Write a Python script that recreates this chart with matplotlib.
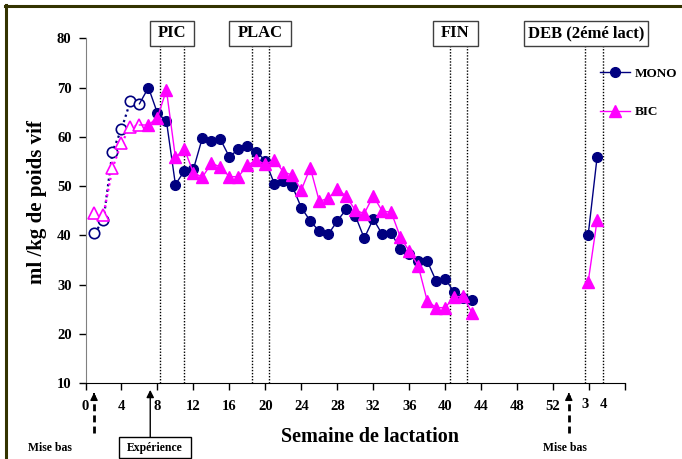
import numpy as np
import matplotlib.pyplot as plt
from matplotlib.patches import Rectangle
from matplotlib.lines import Line2D

plt.rcParams['font.family'] = ['Liberation Serif', 'DejaVu Serif']
plt.rcParams['font.weight'] = 'bold'

# semaines avant l'experience (marqueurs vides, pointilles)
weeks_pre = [1, 2, 3, 4, 5, 6]
mono_pre = [40.4, 43.1, 57.0, 61.5, 67.3, 66.7]
bic_pre = [44.6, 44.2, 53.6, 58.8, 61.9, 62.4]

# semaines 7 a 43
weeks = list(range(7, 44))
mono = [70.0, 64.8, 63.2, 50.3, 53.1, 53.4, 59.8, 59.1, 59.5, 55.9, 57.5, 58.1,
        57.0, 55.1, 50.5, 51.0, 50.0, 45.6, 42.9, 40.8, 40.2, 42.9, 45.3, 44.0,
        39.4, 43.3, 40.2, 40.4, 37.3, 36.1, 34.7, 34.8, 30.7, 31.2, 28.4, 27.3, 26.8]
bic = [62.4, 63.9, 69.5, 55.8, 57.5, 52.7, 51.8, 54.6, 53.9, 51.9, 51.9, 54.2,
       55.3, 54.4, 55.3, 52.9, 52.2, 49.2, 53.7, 46.9, 47.5, 49.4, 47.9, 45.1,
       44.4, 48.0, 44.9, 44.7, 39.7, 36.8, 33.8, 26.7, 25.3, 25.3, 27.5, 27.6, 24.2]

# 2eme lactation
weeks2 = [55.9, 56.9]
mono2 = [40.0, 55.9]
bic2 = [30.5, 43.1]

xticks = list(range(0, 61, 4))
xticklabels = [str(t) for t in range(0, 53, 4)] + ['', '']
lact2_ticks = [55.6, 57.6]
lact2_labels = ['3', '4']

# periodes: nom, debut, fin
periods = ['PIC', 'PLAC', 'FIN', 'DEB (2émé lact)']
period_lines = [(8.3, 10.9), (18.5, 20.4), (40.5, 42.4), (55.6, 57.5)]

navy = '#000080'
mag = '#FF00FF'

fig = plt.figure(figsize=(6.82, 4.59), dpi=100)
ax = fig.add_axes([85.5 / 682, 1 - 383 / 459, 539.5 / 682, 344.7 / 459])

# cadre
fig.add_artist(Line2D([5 / 682, 1], [1 - 6 / 459] * 2, color='#333300', lw=2.2))
fig.add_artist(Line2D([6 / 682] * 2, [0, 1 - 5 / 459], color='#333300', lw=2.2))

# MONO
ax.plot(weeks_pre, mono_pre, ls=(0, (1, 1.5)), lw=1.6, color=navy, marker='o',
        ms=7.5, mfc='white', mec=navy, mew=1.2, zorder=3)
ax.plot([weeks_pre[-1]] + weeks, [mono_pre[-1]] + mono, color=navy, lw=1, zorder=3)
ax.plot(weeks, mono, ls='none', marker='o', ms=7, color=navy, zorder=3)
ax.plot(weeks2, mono2, color=navy, lw=1, marker='o', ms=7, zorder=3)

# BIC
ax.plot(weeks_pre, bic_pre, ls=(0, (1, 1.5)), lw=1.6, color=mag, marker='^',
        ms=8, mfc='white', mec=mag, mew=1.2, zorder=4)
ax.plot([weeks_pre[-1]] + weeks, [bic_pre[-1]] + bic, color=mag, lw=1, zorder=4)
ax.plot(weeks, bic, ls='none', marker='^', ms=8, color=mag, zorder=4)
ax.plot(weeks2, bic2, color=mag, lw=1, marker='^', ms=8, zorder=4)

# periodes
box_x = [(7.17, 12.06), (15.94, 22.83), (38.61, 43.61), (48.72, 62.6)]
for name, (a, b), (x0, x1) in zip(periods, period_lines, box_x):
    ax.vlines([a, b], 10, 78.5, colors='black', linestyles=(0, (1, 1.2)), lw=1, zorder=2)
    ax.add_patch(Rectangle((x0, 78.5), x1 - x0, 5.0, fc='white', ec='#404040',
                           lw=1, clip_on=False, zorder=5))
    ax.text((x0 + x1) / 2, 81.0, name, ha='center', va='center', fontsize=12,
            fontweight='bold', clip_on=False, zorder=6)

ax.set_xlim(0, 60)
ax.set_ylim(10, 80)
ax.set_yticks(range(10, 81, 10))
ax.set_xticks(xticks, labels=xticklabels)
ax.set_xticks(lact2_ticks, labels=lact2_labels, minor=True)
ax.tick_params(axis='both', which='major', direction='out', length=5, width=1,
               labelsize=10.5)
ax.tick_params(axis='x', which='major', pad=7)
ax.tick_params(axis='x', which='minor', length=0, pad=10.6, labelsize=10.5)
ax.tick_params(axis='y', pad=5)
for lab in ax.get_xticklabels(which='both') + ax.get_yticklabels():
    lab.set_fontweight('bold')

for s in ['top', 'right']:
    ax.spines[s].set_visible(False)
ax.spines['left'].set_color('#808080')
ax.spines['bottom'].set_color('black')

ax.set_xlabel('Semaine de lactation', fontsize=14.5, fontweight='bold')
ax.xaxis.set_label_coords(0.527, -0.157)
ax.xaxis.label.set_va('center')
ax.set_ylabel('ml /kg de poids vif', fontsize=15, fontweight='bold')
ax.yaxis.set_label_coords(-0.09, 0.525)
ax.yaxis.label.set_va('center')

# fleches et annotations du bas
for xa in [0.95, 53.75]:
    ax.plot([xa, xa], [-0.2, 7.6], color='black', lw=2, ls=(0, (2.5, 1.5)),
            clip_on=False)
    ax.annotate('', xy=(xa, 8.6), xytext=(xa, 7.2), annotation_clip=False,
                arrowprops=dict(arrowstyle='-|>', color='black', lw=1, mutation_scale=11))
ax.annotate('', xy=(7.2, 8.6), xytext=(7.2, -1.04), annotation_clip=False,
            arrowprops=dict(arrowstyle='-|>', color='black', lw=1, mutation_scale=11,
                            shrinkA=0, shrinkB=0))
ax.add_patch(Rectangle((3.72, -5.3), 8.0, 4.26, fc='white', ec='black', lw=1,
                       clip_on=False, zorder=5))
ax.text(7.72, -3.17, 'Expérience', ha='center', va='center', fontsize=8.5,
        fontweight='bold', clip_on=False, zorder=6)
ax.text(-3.94, -3.27, 'Mise bas', ha='center', va='center', fontsize=8.5,
        fontweight='bold', clip_on=False)
ax.text(53.3, -3.27, 'Mise bas', ha='center', va='center', fontsize=8.5,
        fontweight='bold', clip_on=False)

# legende
h_mono = Line2D([], [], color=navy, lw=1, marker='o', ms=7)
h_bic = Line2D([], [], color=mag, lw=1, marker='^', ms=8)
fig.legend([h_mono, h_bic], ['MONO', 'BIC'], loc='center left',
           bbox_to_anchor=(600 / 682, 1 - 92.8 / 459), frameon=False,
           prop={'family': 'Liberation Serif', 'weight': 'bold', 'size': 9.5},
           handlelength=2.3, handletextpad=0.3, labelspacing=2.0, borderpad=0,
           borderaxespad=0)

fig.savefig('out.png', dpi=100, facecolor='white')
